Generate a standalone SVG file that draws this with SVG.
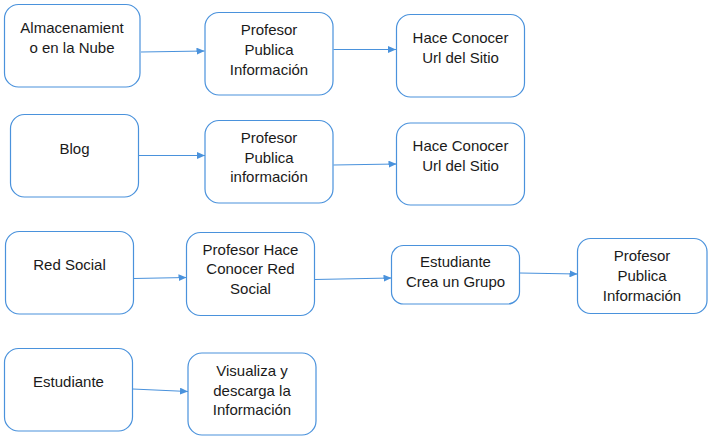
<svg xmlns="http://www.w3.org/2000/svg" width="711" height="441" viewBox="0 0 711 441">
<style>
.box{fill:#fff;stroke:#4a92dc;stroke-width:1.2}
.t{font-family:"Liberation Sans",Arial,sans-serif;font-size:15px;fill:#1a1a1a;text-anchor:middle}
.c{stroke:#4a92dc;stroke-width:1.2;fill:none}
</style>
<defs>
<marker id="ah" markerWidth="8" markerHeight="7" refX="8" refY="3.5" orient="auto" markerUnits="userSpaceOnUse">
<path d="M0,0 L8,3.5 L0,7 Z" fill="#4a92dc"/>
</marker>
</defs>
<rect width="711" height="441" fill="#fff"/>
<g id="n1"><rect class="box" x="4.5" y="4.5" width="135.5" height="82.5" rx="14"/><text class="t" x="72" y="33">Almacenamient</text><text class="t" x="72" y="53">o en la Nube</text></g>
<g id="n2"><rect class="box" x="205" y="12.5" width="128" height="82.5" rx="14"/><text class="t" x="269" y="35">Profesor</text><text class="t" x="269" y="55">Publica</text><text class="t" x="269" y="75">Información</text></g>
<g id="n3"><rect class="box" x="396.5" y="14.5" width="128" height="82.5" rx="14"/><text class="t" x="460.5" y="43">Hace Conocer</text><text class="t" x="460.5" y="63">Url del Sitio</text></g>
<g id="n4"><rect class="box" x="10.5" y="114.5" width="128" height="82.5" rx="14"/><text class="t" x="74.5" y="154">Blog</text></g>
<g id="n5"><rect class="box" x="205" y="120.5" width="128" height="82.5" rx="14"/><text class="t" x="269" y="143">Profesor</text><text class="t" x="269" y="163">Publica</text><text class="t" x="269" y="182">información</text></g>
<g id="n6"><rect class="box" x="396.5" y="123" width="128" height="82" rx="14"/><text class="t" x="460.5" y="151">Hace Conocer</text><text class="t" x="460.5" y="171">Url del Sitio</text></g>
<g id="n7"><rect class="box" x="5.5" y="231.5" width="128" height="82.5" rx="14"/><text class="t" x="69.5" y="270">Red Social</text></g>
<g id="n8"><rect class="box" x="186.5" y="232.5" width="128" height="83" rx="14"/><text class="t" x="250.5" y="255">Profesor Hace</text><text class="t" x="250.5" y="274">Conocer Red</text><text class="t" x="250.5" y="294">Social</text></g>
<g id="n9"><rect class="box" x="391.5" y="245.5" width="128" height="58.5" rx="12"/><text class="t" x="455.5" y="267">Estudiante</text><text class="t" x="455.5" y="287">Crea un Grupo</text></g>
<g id="n10"><rect class="box" x="577.5" y="238.5" width="129.5" height="75" rx="13"/><text class="t" x="642" y="261">Profesor</text><text class="t" x="642" y="281">Publica</text><text class="t" x="642" y="301">Información</text></g>
<g id="n11"><rect class="box" x="4.5" y="348.5" width="128" height="82.5" rx="14"/><text class="t" x="68.5" y="387">Estudiante</text></g>
<g id="n12"><rect class="box" x="188" y="353" width="128" height="82" rx="14"/><text class="t" x="252" y="376">Visualiza y</text><text class="t" x="252" y="396">descarga la</text><text class="t" x="252" y="415">Información</text></g>
<g id="connectors">
<line class="c" x1="141" y1="52" x2="204.5" y2="51" marker-end="url(#ah)"/>
<line class="c" x1="333.5" y1="49.5" x2="396" y2="49.5" marker-end="url(#ah)"/>
<line class="c" x1="138.5" y1="155.5" x2="205" y2="155.5" marker-end="url(#ah)"/>
<line class="c" x1="333.5" y1="165" x2="396.5" y2="164" marker-end="url(#ah)"/>
<line class="c" x1="133.5" y1="278.5" x2="186.5" y2="277.5" marker-end="url(#ah)"/>
<line class="c" x1="314.5" y1="279.5" x2="391.5" y2="278" marker-end="url(#ah)"/>
<line class="c" x1="519.5" y1="273" x2="577.5" y2="274" marker-end="url(#ah)"/>
<line class="c" x1="132.5" y1="389" x2="188" y2="391.5" marker-end="url(#ah)"/>
</g>
</svg>
